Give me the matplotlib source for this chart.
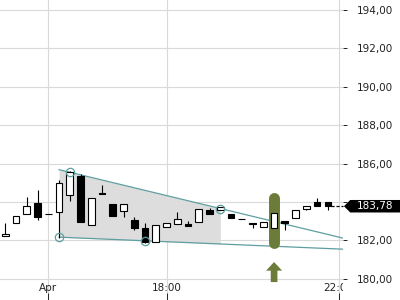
import numpy as np
import matplotlib
matplotlib.use("Agg")
import matplotlib.pyplot as plt
from matplotlib.path import Path

# 15 minute candles
opens = [182.21, 182.89, 183.36, 183.95, 183.39, 183.49, 184.36, 185.37, 182.82, 184.46,
         183.91, 183.52, 183.06, 182.63, 181.93, 182.68, 182.84, 182.85, 182.94, 183.57,
         183.58, 183.37, 183.13, 182.90, 182.70, 182.63, 183.00, 183.15, 183.65, 183.98, 184.02]
highs = [182.89, 183.25, 184.28, 184.63, 183.39, 185.15, 185.62, 185.44, 184.19, 184.89,
         183.91, 183.90, 183.20, 182.92, 182.79, 182.92, 183.46, 182.99, 183.62, 183.69,
         183.74, 183.37, 183.13, 182.90, 182.96, 183.41, 183.00, 183.60, 183.79, 184.19, 184.02]
lows = [182.21, 182.89, 183.36, 183.08, 183.39, 182.14, 184.07, 182.97, 182.82, 184.40,
        183.29, 183.20, 182.53, 181.85, 181.93, 182.68, 182.84, 182.73, 182.94, 183.39,
        183.58, 183.15, 183.13, 182.63, 182.70, 182.63, 182.54, 183.15, 183.58, 183.79, 183.60]
closes = [182.35, 183.25, 183.78, 183.23, 183.39, 185.00, 185.55, 182.97, 184.19, 184.40,
          183.29, 183.90, 182.63, 181.93, 182.79, 182.92, 183.10, 182.73, 183.62, 183.39,
          183.74, 183.15, 183.13, 182.85, 182.96, 183.41, 182.93, 183.60, 183.79, 183.79, 183.78]

time_ticks = [4, 15, 31]
time_labels = ["Apr", "18:00", "22:00"]
price_ticks = [180, 182, 184, 186, 188, 190, 192, 194]
hidden_tick = 184  # sits under the last price tag

# triangle pattern anchors (index, price)
upper_idx = [6, 20]
upper_price = [185.55, 183.66]
lower_idx = [5, 13]
lower_price = [182.17, 181.98]
pattern_start, pattern_end = 5, 20

# buy signal
signal_idx = 25
signal_range = [181.84, 184.23]
arrow_range = [179.83, 180.875]

teal = "#5f9ea0"
olive = "#6b7c3a"
ink = "#222222"

xmin, xmax = -0.49, 31.41
ymin, ymax = 178.896, 194.521


def trend(idx, xs, ps):
    slope = (ps[1] - ps[0]) / (xs[1] - xs[0])
    return ps[0] + slope * (np.asarray(idx, dtype=float) - xs[0])


def price_tag(x0, y0, width, height, mutation_size):
    padx = 0.65 * mutation_size
    pady = 0.12 * mutation_size
    x0, y0 = x0 - padx, y0 - pady
    w, h = width + 2 * padx + 10, height + 2 * pady
    tip = 0.5 * h
    verts = [(x0 - tip, y0 + h / 2), (x0, y0), (x0 + w, y0),
             (x0 + w, y0 + h), (x0, y0 + h), (x0 - tip, y0 + h / 2)]
    return Path(verts, closed=True)


fig = plt.figure(figsize=(4, 3), dpi=100)
ax = fig.add_axes([0, 0, 343 / 400, 1])
ax.set_xlim(xmin, xmax)
ax.set_ylim(ymin, ymax)

# pattern area and trend lines
span = [pattern_start, pattern_end]
ax.fill_between(span, trend(span, lower_idx, lower_price), trend(span, upper_idx, upper_price),
                color="#dddddd", lw=0, zorder=1)
ends = [pattern_start, xmax]
ax.plot(ends, trend(ends, upper_idx, upper_price), color=teal, lw=0.9, zorder=2)
ax.plot(ends, trend(ends, lower_idx, lower_price), color=teal, lw=0.9, zorder=2)

# signal marker
ax.plot([signal_idx, signal_idx], signal_range, color=olive, lw=7.9,
        solid_capstyle="round", zorder=2.5)
ax.arrow(signal_idx, arrow_range[0], 0, arrow_range[1] - arrow_range[0], width=0.62,
         head_width=1.49, head_length=0.45, length_includes_head=True,
         fc=olive, ec="none", zorder=3)

# candles
idx = np.arange(len(opens))
o = np.array(opens)
c = np.array(closes)
ax.vlines(idx, lows, highs, color="black", lw=0.8, zorder=3)
ax.bar(idx, np.abs(c - o), bottom=np.minimum(o, c), width=0.62,
       color=np.where(c >= o, "white", "black"), edgecolor="black", lw=0.8, zorder=3.5)

# anchor circles
ax.plot(upper_idx + lower_idx, upper_price + lower_price, "o", mfc="none", mec=teal,
        ms=6, mew=0.9, zorder=4)

# last price
last = closes[-1]
ax.plot([len(closes) - 1 + 0.31, xmax], [last, last], color="black", lw=0.9,
        dashes=(2.5, 1.5), zorder=3, clip_on=False)
ax.text(357 / 343, last, f"{last:.2f}".replace(".", ","), transform=ax.get_yaxis_transform(),
        ha="left", va="center", color="white", fontsize=7.5, clip_on=False, zorder=6,
        bbox=dict(boxstyle=price_tag, fc="black", ec="none"))

# axes
ax.grid(True, color="#d9d9d9", lw=0.8)
ax.set_axisbelow(True)
for s in ax.spines.values():
    s.set_visible(False)

ax.yaxis.tick_right()
ax.set_yticks(price_ticks, ["" if p == hidden_tick else f"{p:.2f}".replace(".", ",")
                            for p in price_ticks])
ax.tick_params(axis="y", length=3, width=0.7, pad=7.2, colors=ink, labelsize=7.5)

ax.set_xticks(time_ticks, time_labels)
ax.tick_params(axis="x", direction="in", length=5, width=0.7, pad=-12.2,
               colors=ink, labelsize=7.5)
for lab in ax.get_xticklabels():
    lab.set_clip_box(ax.bbox)
    lab.set_clip_on(True)

fig.savefig("out.png", dpi=100)
